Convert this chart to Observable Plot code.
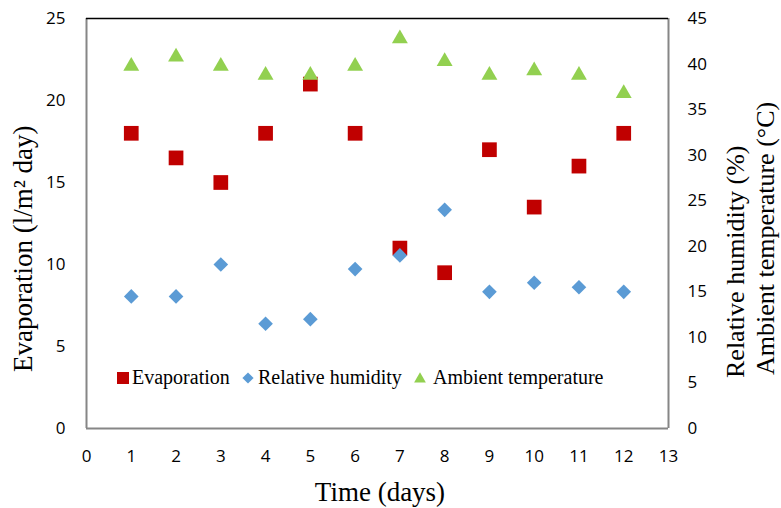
<!DOCTYPE html>
<html>
<head>
<meta charset="utf-8">
<script src="https://cdn.jsdelivr.net/npm/d3@7"></script>
<script src="https://cdn.jsdelivr.net/npm/@observablehq/plot@0.6"></script>
<style>
  html, body { margin: 0; padding: 0; background: #fff; }
  #chart { position: relative; width: 781px; height: 508px; }
</style>
</head>
<body>
<div id="chart"></div>
<script>
// ---- data ----
const days = [1, 2, 3, 4, 5, 6, 7, 8, 9, 10, 11, 12];
const evaporation = [18, 16.5, 15, 18, 21, 18, 11, 9.5, 17, 13.5, 16, 18];
const humidity = [14.5, 14.5, 18, 11.5, 12, 17.5, 19, 24, 15, 16, 15.5, 15];
const temperature = [40, 41, 40, 39, 39, 40, 43, 40.5, 39, 39.5, 39, 37];
const xTicks = [0, 1, 2, 3, 4, 5, 6, 7, 8, 9, 10, 11, 12, 13];
const leftTicks = [0, 5, 10, 15, 20, 25];
const rightTicks = [0, 5, 10, 15, 20, 25, 30, 35, 40, 45];
const seriesNames = ["Evaporation", "Relative humidity", "Ambient temperature"];
const titles = {
  x: "Time (days)",
  yLeft: "Evaporation (l/m² day)",
  yRight1: "Relative humidity (%)",
  yRight2: "Ambient temperature (°C)"
};

// ---- scales ----
const leftMax = 25, rightMax = 45;
const toLeft = v => v * leftMax / rightMax;

const evapData = days.map((d, i) => ({day: d, v: evaporation[i]}));
const humData = days.map((d, i) => ({day: d, v: toLeft(humidity[i])}));
const tempData = days.map((d, i) => ({day: d, v: toLeft(temperature[i])}));

const RED = "#C00000", BLUE = "#5B9BD5", GREEN = "#92D050", GRAY = "#868686";
const tickFont = "'Open Sans', sans-serif";
const serif = "'Liberation Serif', 'Times New Roman', serif";

const plot = Plot.plot({
  width: 781,
  height: 508,
  marginLeft: 86,
  marginRight: 113,
  marginTop: 18,
  marginBottom: 80,
  style: {fontFamily: tickFont, background: "white", overflow: "visible"},
  x: {domain: [0, 13]},
  y: {domain: [0, leftMax]},
  marks: [
    Plot.axisX(xTicks, {tickSize: 0, tickPadding: 21, fontSize: 17, label: null, fill: "#000"}),
    Plot.axisY(leftTicks, {anchor: "left", tickSize: 0, tickPadding: 21, fontSize: 17, label: null, fill: "#000"}),
    Plot.axisY(rightTicks.map(toLeft), {anchor: "right", tickSize: 0, tickPadding: 19, fontSize: 17, label: null, fill: "#000",
      tickFormat: d => String(Math.round(d * rightMax / leftMax))}),
    Plot.ruleX([0, 13], {stroke: GRAY, strokeWidth: 2}),
    Plot.ruleY([0], {stroke: GRAY, strokeWidth: 2}),
    Plot.ruleY([leftMax], {stroke: "#000", strokeWidth: 1.3}),
    Plot.dot(evapData, {x: "day", y: "v", symbol: "square", r: 8.3, fill: RED, stroke: null}),
    Plot.dot(humData, {x: "day", y: "v", symbol: "diamond2", r: 6.6, fill: BLUE, stroke: null}),
    Plot.dot(tempData, {x: "day", y: "v", symbol: "triangle", r: 5.9, fill: GREEN, stroke: null, dy: 2})
  ]
});

document.getElementById("chart").appendChild(plot);

// ---- titles & legend ----
const svg = d3.select(plot);
const g = svg.append("g").attr("font-family", serif).attr("fill", "#000");

g.append("text").attr("x", 380).attr("y", 501).attr("text-anchor", "middle")
  .attr("font-size", 27).text(titles.x);
g.append("text").attr("transform", "translate(32,372) rotate(-90)").attr("text-anchor", "start")
  .attr("font-size", 27).text(titles.yLeft);
g.append("text").attr("transform", "translate(744,378) rotate(-90)").attr("text-anchor", "start")
  .attr("font-size", 26).text(titles.yRight1);
g.append("text").attr("transform", "translate(774,375) rotate(-90)").attr("text-anchor", "start")
  .attr("font-size", 26).text(titles.yRight2);

const leg = svg.append("g").attr("font-family", serif).attr("font-size", 20).attr("fill", "#000");
const legY = 378;
const legItems = [
  {name: seriesNames[0], color: RED, sym: d3.symbolSquare, size: 144, sx: 123, tx: 132},
  {name: seriesNames[1], color: BLUE, sym: d3.symbolDiamond2, size: 80, sx: 248, tx: 258},
  {name: seriesNames[2], color: GREEN, sym: d3.symbolTriangle, size: 60, sx: 420, tx: 433}
];
for (const it of legItems) {
  leg.append("path").attr("d", d3.symbol(it.sym, it.size)())
    .attr("transform", `translate(${it.sx},${legY + (it.sym === d3.symbolTriangle ? 1 : 0)})`)
    .attr("fill", it.color);
  leg.append("text").attr("x", it.tx).attr("y", legY + 6).attr("text-anchor", "start").text(it.name);
}
</script>
</body>
</html>
